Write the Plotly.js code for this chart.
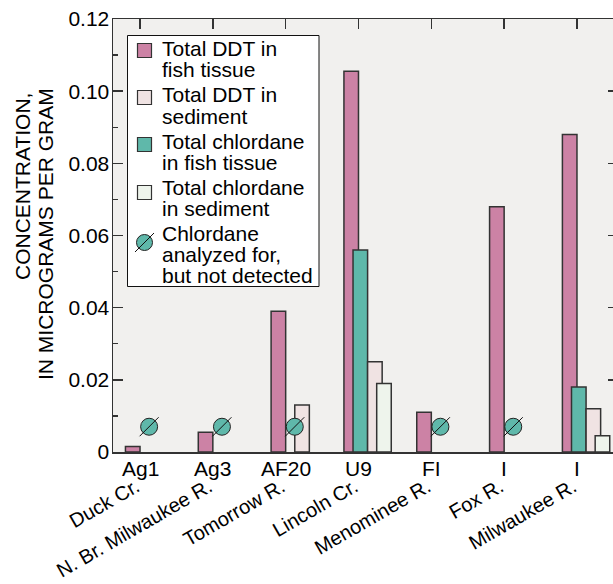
<!DOCTYPE html>
<html><head><meta charset="utf-8">
<script src="https://cdn.plot.ly/plotly-3.0.1.min.js"></script>
<style>html,body{margin:0;padding:0;overflow:hidden;background:#fff}#chart{width:622px;height:584px}</style>
</head><body><div id="chart"></div>
<script>
// ---- data ----
const siteCodes = ['Ag1', 'Ag3', 'AF20', 'U9', 'FI', 'I', 'I'];
const siteNames = ['Duck Cr.', 'N. Br. Milwaukee R.', 'Tomorrow R.', 'Lincoln Cr.', 'Menominee R.', 'Fox R.', 'Milwaukee R.'];
const ddtFish = [0.0015, 0.0055, 0.039, 0.1055, 0.011, 0.068, 0.088];
const ddtSediment = [null, null, 0.013, 0.025, null, null, 0.012];
const chlordaneFish = [null, null, null, 0.056, null, null, 0.018];
const chlordaneSediment = [null, null, null, 0.019, null, null, 0.0045];
const chlordaneNotDetected = [0.007, 0.007, 0.007, null, 0.007, 0.007, null];
const yTickValues = [0, 0.02, 0.04, 0.06, 0.08, 0.10, 0.12];
const yTickLabels = ['0', '0.02', '0.04', '0.06', '0.08', '0.10', '0.12'];
const legendLines = [
  ['Total DDT in', 'fish tissue'],
  ['Total DDT in', 'sediment'],
  ['Total chlordane', 'in fish tissue'],
  ['Total chlordane', 'in sediment'],
  ['Chlordane', 'analyzed for,', 'but not detected']
];
const yTitleLines = ['CONCENTRATION,', 'IN MICROGRAMS PER GRAM'];

// ---- styles ----
const FONT = '"Liberation Sans", Arial, Helvetica, sans-serif';
const FS = 21;
const FS_SITE = 20;
const TXT = '#000';
const C = {ddtFish: '#cc82a5', ddtSed: '#f0e3e3', chlFish: '#5fb8aa', chlSed: '#eef4ec', edge: '#333333'};
const M = {l: 113, t: 19, w: 503, h: 433};
const W = 622, H = 584;
const xp = px => (px - M.l) / M.w;
const yp = py => (M.t + M.h - py) / M.h;

const idx = siteNames.map((_, i) => i);
function bar(name, y, color, offset) {
  return {type: 'bar', name, x: idx, y, width: 0.2, offset,
    marker: {color, line: {color: C.edge, width: 1.5}}, showlegend: false, hoverinfo: 'y'};
}
const ndX = [], ndY = [];
chlordaneNotDetected.forEach((v, i) => { if (v !== null) { ndX.push(i + 0.125); ndY.push(v); } });

const traces = [
  bar('Total DDT in fish tissue', ddtFish, C.ddtFish, -0.2),
  bar('Total chlordane in fish tissue', chlordaneFish, C.chlFish, -0.075),
  bar('Total DDT in sediment', ddtSediment, C.ddtSed, 0.125),
  bar('Total chlordane in sediment', chlordaneSediment, C.chlSed, 0.25),
  {type: 'scatter', mode: 'markers', name: 'Chlordane analyzed for, but not detected', x: ndX, y: ndY,
    marker: {symbol: 'circle', size: 17, color: C.chlFish, line: {color: '#222', width: 1}}, showlegend: false, cliponaxis: false},
  {type: 'scatter', mode: 'markers', x: ndX, y: ndY, hoverinfo: 'skip',
    marker: {symbol: 'line-ne', size: 19, color: '#111', line: {color: '#111', width: 1}}, showlegend: false, cliponaxis: false},
  {type: 'scatter', x: [], y: [], xaxis: 'x2', yaxis: 'y', showlegend: false, hoverinfo: 'skip'},
  {type: 'scatter', x: [], y: [], xaxis: 'x', yaxis: 'y2', showlegend: false, hoverinfo: 'skip'}
];

const xRange = [-0.371, 6.536];
const shapes = [];
const annotations = [];

// legend (drawn manually)
shapes.push({type: 'rect', xref: 'paper', yref: 'paper', x0: xp(127.5), x1: xp(319), y0: yp(286.5), y1: yp(35.5),
  fillcolor: '#ffffff', line: {color: '#111', width: 1}});
const symFill = [C.ddtFish, C.ddtSed, C.chlFish, C.chlSed];
const symCenters = [50.5, 97.5, 144.5, 192.5];
symFill.forEach((c, k) => {
  shapes.push({type: 'rect', xref: 'paper', yref: 'paper', x0: xp(137.5), x1: xp(151.5),
    y0: yp(symCenters[k] + 7), y1: yp(symCenters[k] - 7), fillcolor: c, line: {color: C.edge, width: 1.2}});
});
shapes.push({type: 'circle', xref: 'paper', yref: 'paper', x0: xp(136.5), x1: xp(152.5), y0: yp(250.5), y1: yp(234.5),
  fillcolor: C.chlFish, line: {color: '#222', width: 1}});
shapes.push({type: 'line', xref: 'paper', yref: 'paper', x0: xp(135), x1: xp(154), y0: yp(252), y1: yp(233),
  line: {color: '#111', width: 1}});
const firstBaselines = [56, 102.5, 148.5, 195, 240.5];
legendLines.forEach((lines, k) => {
  lines.forEach((txt, j) => {
    annotations.push({xref: 'paper', yref: 'paper', x: xp(160), y: yp(firstBaselines[k] + j * 21.3 - 7.5),
      xanchor: 'left', yanchor: 'middle', text: txt, showarrow: false, font: {family: FONT, size: FS, color: TXT}});
  });
});
// site codes under the axis
siteCodes.forEach((code, i) => {
  annotations.push({xref: 'x', yref: 'paper', x: i, y: 0, yanchor: 'top', yshift: -3, text: code, showarrow: false,
    font: {family: FONT, size: FS, color: TXT}});
});
// y title
annotations.push({xref: 'paper', yref: 'paper', x: xp(22.5), y: yp(91), xanchor: 'center', yanchor: 'top', textangle: -90,
  text: yTitleLines[0], showarrow: false, font: {family: FONT, size: FS, color: TXT}});
annotations.push({xref: 'paper', yref: 'paper', x: xp(45), y: yp(86), xanchor: 'center', yanchor: 'top', textangle: -90,
  text: yTitleLines[1], showarrow: false, font: {family: FONT, size: FS, color: TXT}});

const layout = {
  width: W, height: H,
  margin: {l: M.l, r: W - M.l - M.w, t: M.t, b: H - M.t - M.h, pad: 0},
  paper_bgcolor: '#ffffff', plot_bgcolor: '#f1f0ee',
  font: {family: FONT, size: FS, color: TXT},
  barmode: 'overlay', showlegend: false,
  xaxis: {type: 'linear', range: xRange, tickmode: 'array', tickvals: idx, ticktext: siteNames, tickangle: -30,
    ticks: '', showgrid: false, zeroline: false, showline: true, linecolor: '#333', linewidth: 1.5, mirror: true,
    tickfont: {family: FONT, size: FS_SITE, color: TXT}, ticklabelstandoff: 14, ticklabelshift: -4, fixedrange: true},
  xaxis2: {overlaying: 'x', side: 'top', anchor: 'y', type: 'linear', range: xRange, tickmode: 'array', tickvals: idx,
    ticks: 'inside', ticklen: 10, tickwidth: 1.5, tickcolor: '#333', showticklabels: false, showgrid: false,
    zeroline: false, showline: false},
  yaxis: {range: [0, 0.12], tickmode: 'array', tickvals: yTickValues, ticktext: yTickLabels,
    ticks: 'inside', ticklen: 10, tickwidth: 1.5, tickcolor: '#333',
    minor: {ticks: 'inside', ticklen: 5, dtick: 0.01, tickwidth: 1.2, tickcolor: '#333', showgrid: false},
    showgrid: false, zeroline: false, showline: true, linecolor: '#333', linewidth: 1.5, mirror: true,
    tickfont: {family: FONT, size: FS, color: TXT}, ticklabelstandoff: -2, fixedrange: true},
  yaxis2: {overlaying: 'y', side: 'right', anchor: 'x', range: [0, 0.12], tickmode: 'array', tickvals: yTickValues,
    ticks: 'inside', ticklen: 8, tickwidth: 1.5, tickcolor: '#333', showticklabels: false, showgrid: false,
    zeroline: false, showline: false},
  shapes, annotations
};
Plotly.newPlot('chart', traces, layout, {displayModeBar: false, staticPlot: true});
</script></body></html>
